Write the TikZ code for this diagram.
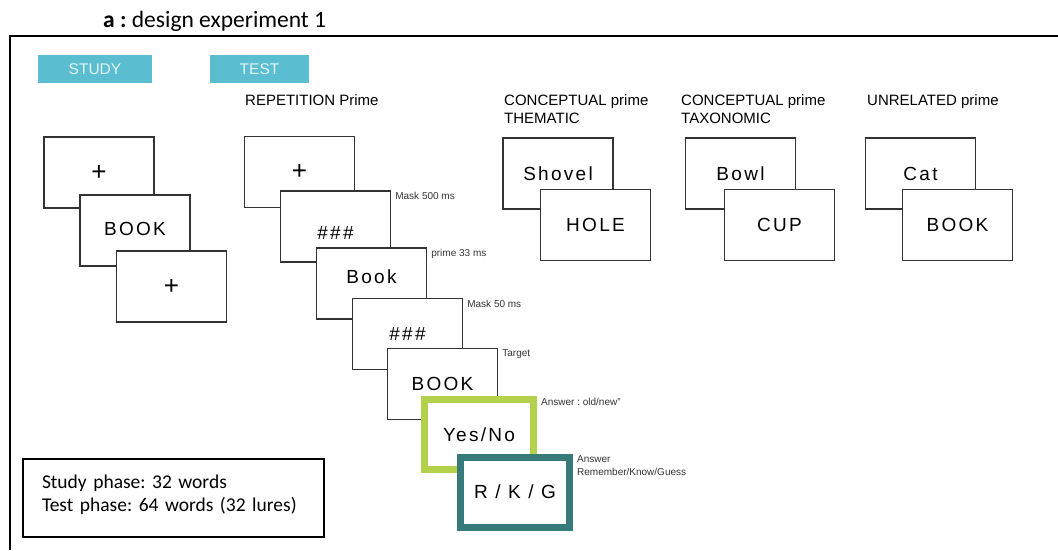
\documentclass[tikz,border=0pt]{standalone}
\usepackage{fontspec}
\setmainfont{Carlito}
\setsansfont{Liberation Sans}
\usetikzlibrary{positioning}
\frenchspacing

\definecolor{phasecyan}{HTML}{5BBDD0}
\definecolor{phasetext}{HTML}{E4F5F8}
\definecolor{answergreen}{HTML}{B3D14B}
\definecolor{answerteal}{HTML}{377A7A}
\definecolor{screenline}{HTML}{333333}

\newcommand{\fixcross}{{\fontsize{26}{26}\selectfont +}}

\tikzset{
  screen/.style={rectangle, draw=screenline, line width=1.3pt, fill=white, inner sep=0pt,
    minimum width=110pt, minimum height=71pt,
    font=\sffamily\fontsize{19}{19}\selectfont\addfontfeature{LetterSpace=12}},
  answer/.style={screen, line width=7pt, minimum width=109pt, minimum height=70pt},
  phase/.style={rectangle, fill=phasecyan, text=phasetext, inner sep=0pt,
    minimum height=28pt, font=\sffamily\fontsize{15.5}{15.5}\selectfont},
  tag/.style={anchor=north west, inner sep=0pt, align=left,
    font=\sffamily\fontsize{15}{18}\selectfont},
  note/.style={anchor=north west, inner sep=0pt, align=left, xshift=4pt, yshift=-2pt,
    font=\sffamily\fontsize{10}{13}\selectfont, text=black!80},
}

\begin{document}
\begin{tikzpicture}[x=1pt, y=-1pt, on grid]
    \useasboundingbox (0,0) rectangle (1058,550);
    %% title and frame
    \node[anchor=base west, inner sep=0pt, font=\fontsize{23.5}{23.5}\selectfont] (title) at (103,27) {\textbf{a :} design experiment 1};
    \draw[line width=1.5pt] (10,550) -- (10,36) -- (1058,36);

    \node[phase, minimum width=114pt] (study) at (95,69) {STUDY};
    \node[phase, minimum width=99pt] (test) at (259.5,69) {TEST};

    %% headers
    \node[tag] (hrep) at (245,94.5) {REPETITION Prime};
    \node[tag] (hthem) at (504,94.5) {CONCEPTUAL prime\\THEMATIC};
    \node[tag] (htax) at (681,94.5) {CONCEPTUAL prime\\TAXONOMIC};
    \node[tag] (hunrel) at (867,94.5) {UNRELATED prime};

    %% Study phase
    \node[screen] (s1) at (99,172.5) {\fixcross};
    \node[screen, below right=58pt and 36pt of s1] (s2) {\raisebox{4pt}{BOOK}};
    \node[screen, below right=56pt and 36.5pt of s2] (s3) {\fixcross};

    %% Test phase: repetition
    \node[screen] (r1) at (299.5,172) {\fixcross};
    \node[screen, below right=54.5pt and 36pt of r1] (r2) {\raisebox{-13pt}[0pt][0pt]{\#\#\#}};
    \node[screen, below right=57pt and 36pt of r2] (r3) {\raisebox{0pt}[0pt][0pt]{Book}};
    \node[screen, below right=50.5pt and 36pt of r3] (r4) {\#\#\#};
    \node[screen, below right=50pt and 35pt of r4] (r5) {BOOK};
    \node[answer, draw=answergreen, below right=50.5pt and 36.5pt of r5] (r6) {Yes/No};
    \node[answer, draw=answerteal, below right=57.5pt and 36pt of r6] (r7) {R / K / G};

    \node[note] (n2) at (r2.north east) {Mask 500 ms};
    \node[note] (n3) at (r3.north east) {prime 33 ms};
    \node[note] (n4) at (r4.north east) {Mask 50 ms};
    \node[note] (n5) at (r5.north east) {Target};
    \node[note] (n6) at (r6.north east) {Answer : old/new"};
    \node[note] (n7) at (r7.north east) {Answer\\Remember/Know/Guess};

    %% Conceptual and unrelated primes
    \node[screen] (a1) at (558,173.5) {Shovel};
    \node[screen, below right=51.5pt and 37.5pt of a1] (a2) {HOLE};
    \node[screen] (b1) at (740.5,173.5) {Bowl};
    \node[screen, below right=51.5pt and 39pt of b1] (b2) {CUP};
    \node[screen] (c1) at (920.5,173.5) {Cat};
    \node[screen, below right=51.5pt and 37pt of c1] (c2) {BOOK};

    %% summary
    \node[draw, line width=1.3pt, inner xsep=19pt, inner ysep=0pt, text width=263pt,
      minimum height=78pt, align=left, text depth=32pt, font=\fontsize{19.5}{23}\selectfont] (sum) at (173.5,498)
      {Study phase: 32 words\\Test phase: 64 words (32 lures)};
\end{tikzpicture}
\end{document}
